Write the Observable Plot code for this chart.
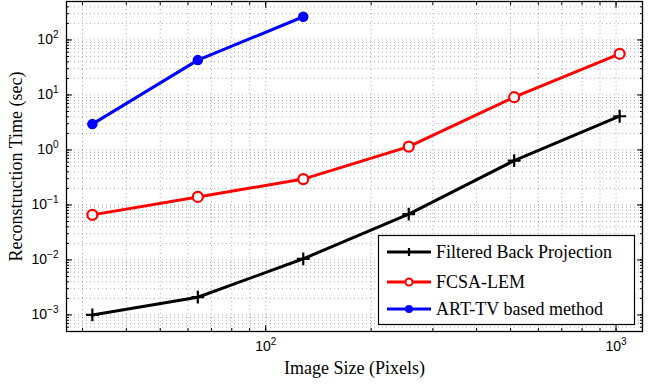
<!DOCTYPE html>
<html><head><meta charset="utf-8">
<script src="https://cdn.jsdelivr.net/npm/d3@7"></script>
<script src="https://cdn.jsdelivr.net/npm/@observablehq/plot@0.6"></script>
<style>body{margin:0;background:#fff} #chart{width:653px;height:386px}</style>
</head><body><div id="chart"></div>
<script>
const sizes = [32, 64, 128, 256, 512, 1024];
const fbp = [0.001, 0.0021, 0.0105, 0.068, 0.64, 4.1];
const fcsa = [0.066, 0.14, 0.295, 1.15, 9.1, 56];
const artSizes = [32, 64, 128];
const art = [2.95, 43, 264];
const seriesNames = ["Filtered Back Projection", "FCSA-LEM", "ART-TV based method"];
const seriesColors = ["#000000", "#ff0000", "#0000ff"];
const xMajor = [100, 1000];
const yMajor = [1e-3, 1e-2, 1e-1, 1, 10, 100];
const xDomain = [27, 1190];
const yDomain = [5e-4, 500];
const xTitle = "Image Size (Pixels)";
const yTitle = "Reconstruction Time (sec)";

function minorTicks(dom) {
  const out = [];
  for (let e = -5; e <= 4; e++) for (let m = 1; m <= 9; m++) {
    const v = m * Math.pow(10, e);
    if (v >= dom[0] * 0.999 && v <= dom[1] * 1.001) out.push(v);
  }
  return out;
}
const xMinor = minorTicks(xDomain);
const yMinor = minorTicks(yDomain);

const rows = [];
sizes.forEach((s, i) => rows.push({s, t: fbp[i], k: seriesNames[0]}));
sizes.forEach((s, i) => rows.push({s, t: fcsa[i], k: seriesNames[1]}));
artSizes.forEach((s, i) => rows.push({s, t: art[i], k: seriesNames[2]}));
const byK = k => rows.filter(r => r.k === k);

const expFmt = v => "10^" + Math.round(Math.log10(v));
const sans = "Liberation Sans, Arial, sans-serif";
const serif = "Liberation Serif, Times New Roman, serif";
const grid = {stroke: "#000", strokeOpacity: 0.4, strokeDasharray: "1,3", strokeWidth: 0.8};
const tk = {text: null, stroke: "#000", label: null};

const chart = Plot.plot({
  width: 653, height: 386,
  marginLeft: 66, marginRight: 11, marginTop: 1, marginBottom: 55,
  x: {type: "log", domain: xDomain},
  y: {type: "log", domain: yDomain},
  style: {background: "#fff"},
  marks: [
    Plot.ruleX(xMinor, grid),
    Plot.ruleY(yMinor, grid),
    Plot.axisX(xMinor, {anchor: "bottom", tickSize: -3, ...tk}),
    Plot.axisX(xMinor, {anchor: "top", tickSize: -3, ...tk}),
    Plot.axisY(yMinor, {anchor: "left", tickSize: -3, ...tk}),
    Plot.axisY(yMinor, {anchor: "right", tickSize: -3, ...tk}),
    Plot.axisX(xMajor, {anchor: "bottom", tickSize: -6, tickPadding: 16, tickFormat: expFmt, fontSize: 14, fontFamily: sans, fill: "#000", stroke: "#000", label: null}),
    Plot.axisX(xMajor, {anchor: "top", tickSize: -6, ...tk}),
    Plot.axisY(yMajor, {anchor: "left", tickSize: -6, tickPadding: 14, tickFormat: expFmt, fontSize: 14, fontFamily: sans, fill: "#000", stroke: "#000", label: null}),
    Plot.axisY(yMajor, {anchor: "right", tickSize: -6, ...tk}),
    Plot.line(byK(seriesNames[0]), {x: "s", y: "t", stroke: seriesColors[0], strokeWidth: 3}),
    Plot.line(byK(seriesNames[1]), {x: "s", y: "t", stroke: seriesColors[1], strokeWidth: 3}),
    Plot.line(byK(seriesNames[2]), {x: "s", y: "t", stroke: seriesColors[2], strokeWidth: 3}),
    Plot.dot(byK(seriesNames[0]), {x: "s", y: "t", symbol: "plus", r: 4.2, stroke: seriesColors[0], strokeWidth: 2.2}),
    Plot.dot(byK(seriesNames[1]), {x: "s", y: "t", symbol: "circle", r: 5, stroke: seriesColors[1], fill: "#fff", strokeWidth: 2.2}),
    Plot.dot(byK(seriesNames[2]), {x: "s", y: "t", symbol: "circle", r: 4.5, fill: seriesColors[2], stroke: seriesColors[2]}),
    Plot.frame({stroke: "#000", strokeWidth: 1.3}),
    Plot.text([xTitle], {frameAnchor: "bottom", dy: 42, fontSize: 18, fontFamily: serif, fill: "#000", textAnchor: "middle", lineAnchor: "bottom"}),
    Plot.text([yTitle], {frameAnchor: "left", dx: -50, rotate: -90, fontSize: 18, fontFamily: serif, fill: "#000", textAnchor: "middle"})
  ]
});

const svg = d3.select(chart);
// superscript exponents on tick labels
svg.selectAll("text").each(function() {
  const t = this.textContent;
  if (/^10\^-?\d+$/.test(t)) {
    const e = t.split("^")[1].replace("-", "\u2212");
    const el = d3.select(this);
    el.text("");
    el.append("tspan").text("10");
    el.append("tspan").attr("dy", "-0.6em").attr("font-size", "10px").text(e);
  }
});

// legend box
const lg = svg.append("g").attr("font-family", serif).attr("font-size", 18).attr("text-anchor", "start");
lg.append("rect").attr("x", 378.5).attr("y", 235.5).attr("width", 256).attr("height", 89)
  .attr("fill", "#fff").attr("stroke", "#000").attr("stroke-width", 1.2);
const rowY = [252, 282, 309];
seriesNames.forEach((n, i) => {
  const g = lg.append("g");
  g.append("line").attr("x1", 387).attr("x2", 431).attr("y1", rowY[i]).attr("y2", rowY[i])
    .attr("stroke", seriesColors[i]).attr("stroke-width", 3);
  if (i === 0) {
    g.append("path").attr("d", `M405,${rowY[i]}h8M409,${rowY[i]-4}v8`).attr("stroke", "#000").attr("stroke-width", 2.2);
  } else if (i === 1) {
    g.append("circle").attr("cx", 409).attr("cy", rowY[i]).attr("r", 3.5).attr("fill", "#fff").attr("stroke", seriesColors[i]).attr("stroke-width", 2);
  } else {
    g.append("circle").attr("cx", 409).attr("cy", rowY[i]).attr("r", 4).attr("fill", seriesColors[i]);
  }
  g.append("text").attr("x", 436).attr("y", rowY[i]).attr("dy", "0.35em").attr("fill", "#000").attr("text-anchor", "start").text(n);
});

document.getElementById("chart").appendChild(chart);
</script>
</body></html>
